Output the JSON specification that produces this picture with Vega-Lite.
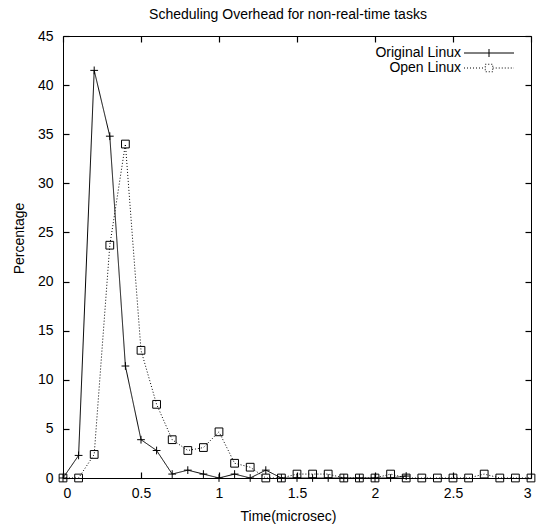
{
  "$schema": "https://vega.github.io/schema/vega-lite/v6.json",
  "autosize": "none",
  "width": 468,
  "height": 442,
  "padding": {"left": 63, "top": 36, "right": 6, "bottom": 47},
  "background": "white",
  "title": {"text": "Scheduling Overhead for non-real-time tasks", "font": "Liberation Sans", "fontSize": 14, "fontWeight": "normal", "color": "black", "anchor": "middle", "dx": -9, "dy": 20, "offset": 16, "baseline": "alphabetic"},
  "config": {
    "view": {"stroke": "black", "strokeWidth": 1},
    "axis": {"grid": false, "domain": false, "ticks": true, "tickColor": "black", "tickOpacity": 1, "labelColor": "black", "titleColor": "black", "labelFont": "Liberation Sans", "titleFont": "Liberation Sans", "labelFontSize": 14, "titleFontSize": 14, "titleFontWeight": "normal", "tickSize": 6, "tickWidth": 1.2, "offset": -6, "labelPadding": 8, "zindex": 1}
  },
  "data": {"values": [
    {"t": 0.0, "pct": 0.0, "series": "Original Linux"},
    {"t": 0.1, "pct": 2.3, "series": "Original Linux"},
    {"t": 0.2, "pct": 41.5, "series": "Original Linux"},
    {"t": 0.3, "pct": 34.8, "series": "Original Linux"},
    {"t": 0.4, "pct": 11.4, "series": "Original Linux"},
    {"t": 0.5, "pct": 3.9, "series": "Original Linux"},
    {"t": 0.6, "pct": 2.8, "series": "Original Linux"},
    {"t": 0.7, "pct": 0.4, "series": "Original Linux"},
    {"t": 0.8, "pct": 0.8, "series": "Original Linux"},
    {"t": 0.9, "pct": 0.4, "series": "Original Linux"},
    {"t": 1.0, "pct": 0.0, "series": "Original Linux"},
    {"t": 1.1, "pct": 0.4, "series": "Original Linux"},
    {"t": 1.2, "pct": 0.0, "series": "Original Linux"},
    {"t": 1.3, "pct": 0.8, "series": "Original Linux"},
    {"t": 1.4, "pct": 0.0, "series": "Original Linux"},
    {"t": 1.5, "pct": 0.0, "series": "Original Linux"},
    {"t": 1.6, "pct": 0.0, "series": "Original Linux"},
    {"t": 1.7, "pct": 0.0, "series": "Original Linux"},
    {"t": 1.8, "pct": 0.0, "series": "Original Linux"},
    {"t": 1.9, "pct": 0.0, "series": "Original Linux"},
    {"t": 2.0, "pct": 0.0, "series": "Original Linux"},
    {"t": 2.1, "pct": 0.0, "series": "Original Linux"},
    {"t": 2.2, "pct": 0.2, "series": "Original Linux"},
    {"t": 0.0, "pct": 0.0, "series": "Open Linux"},
    {"t": 0.1, "pct": 0.0, "series": "Open Linux"},
    {"t": 0.2, "pct": 2.4, "series": "Open Linux"},
    {"t": 0.3, "pct": 23.7, "series": "Open Linux"},
    {"t": 0.4, "pct": 34.0, "series": "Open Linux"},
    {"t": 0.5, "pct": 13.0, "series": "Open Linux"},
    {"t": 0.6, "pct": 7.5, "series": "Open Linux"},
    {"t": 0.7, "pct": 3.9, "series": "Open Linux"},
    {"t": 0.8, "pct": 2.8, "series": "Open Linux"},
    {"t": 0.9, "pct": 3.1, "series": "Open Linux"},
    {"t": 1.0, "pct": 4.7, "series": "Open Linux"},
    {"t": 1.1, "pct": 1.5, "series": "Open Linux"},
    {"t": 1.2, "pct": 1.1, "series": "Open Linux"},
    {"t": 1.3, "pct": 0.0, "series": "Open Linux"},
    {"t": 1.4, "pct": 0.0, "series": "Open Linux"},
    {"t": 1.5, "pct": 0.4, "series": "Open Linux"},
    {"t": 1.6, "pct": 0.4, "series": "Open Linux"},
    {"t": 1.7, "pct": 0.4, "series": "Open Linux"},
    {"t": 1.8, "pct": 0.0, "series": "Open Linux"},
    {"t": 1.9, "pct": 0.0, "series": "Open Linux"},
    {"t": 2.0, "pct": 0.0, "series": "Open Linux"},
    {"t": 2.1, "pct": 0.4, "series": "Open Linux"},
    {"t": 2.2, "pct": 0.0, "series": "Open Linux"},
    {"t": 2.3, "pct": 0.0, "series": "Open Linux"},
    {"t": 2.4, "pct": 0.0, "series": "Open Linux"},
    {"t": 2.5, "pct": 0.0, "series": "Open Linux"},
    {"t": 2.6, "pct": 0.0, "series": "Open Linux"},
    {"t": 2.7, "pct": 0.4, "series": "Open Linux"},
    {"t": 2.8, "pct": 0.0, "series": "Open Linux"},
    {"t": 2.9, "pct": 0.0, "series": "Open Linux"},
    {"t": 3.0, "pct": 0.0, "series": "Open Linux"}
  ]},
  "resolve": {"axis": {"x": "independent", "y": "independent"}},
  "layer": [
    {
      "mark": {"type": "line", "color": "black", "strokeWidth": 1},
      "encoding": {
        "x": {"field": "t", "type": "quantitative", "scale": {"domain": [0, 3], "nice": false, "zero": false},
              "axis": {"title": "Time(microsec)", "values": [0, 0.5, 1, 1.5, 2, 2.5, 3], "format": "~g", "titleX": 225, "titleY": 48, "titleBaseline": "alphabetic", "titleAnchor": null}},
        "y": {"field": "pct", "type": "quantitative", "scale": {"domain": [0, 45], "nice": false},
              "axis": {"title": "Percentage", "values": [0, 5, 10, 15, 20, 25, 30, 35, 40, 45], "labelPadding": 10, "titleX": -50, "titleY": 202, "titleAngle": -90, "titleBaseline": "middle"}},
        "detail": {"field": "series"},
        "strokeDash": {"field": "series", "type": "nominal",
          "scale": {"domain": ["Original Linux", "Open Linux"], "range": [[1, 0], [1, 2]]},
          "legend": {"orient": "none", "legendX": 419, "legendY": 10, "title": null, "padding": 0,
            "labelFont": "Liberation Sans", "labelFontSize": 14, "labelColor": "black", "labelAlign": "right", "labelOffset": -35,
            "symbolSize": 100, "symbolStrokeColor": "black", "symbolStrokeWidth": 1, "symbolFillColor": "transparent", "rowPadding": 1,
            "encode": {"symbols": {"update": {"shape": {"signal": "datum.value === 'Original Linux' ? 'M-5,0H5M0,-0.8V0.8' : 'M-5,0H-0.75M0.75,0H5M-0.75,-0.75H0.75V0.75H-0.75Z'"}, "fill": {"value": "transparent"}, "stroke": {"value": "black"}}}}}}
      }
    },
    {
      "mark": {"type": "point", "filled": false, "color": "black", "strokeWidth": 1, "opacity": 1, "size": 60},
      "encoding": {
        "x": {"field": "t", "type": "quantitative", "scale": {"domain": [0, 3], "nice": false, "zero": false},
              "axis": {"orient": "top", "labels": false, "title": null, "values": [0, 0.5, 1, 1.5, 2, 2.5, 3]}},
        "y": {"field": "pct", "type": "quantitative", "scale": {"domain": [0, 45], "nice": false},
              "axis": {"orient": "right", "labels": false, "title": null, "values": [0, 5, 10, 15, 20, 25, 30, 35, 40, 45]}},
        "shape": {"field": "series", "type": "nominal",
          "scale": {"domain": ["Open Linux", "Original Linux"], "range": ["square", "M-1,0H1M0,-1V1"]}, "legend": null}
      }
    }
  ]
}
